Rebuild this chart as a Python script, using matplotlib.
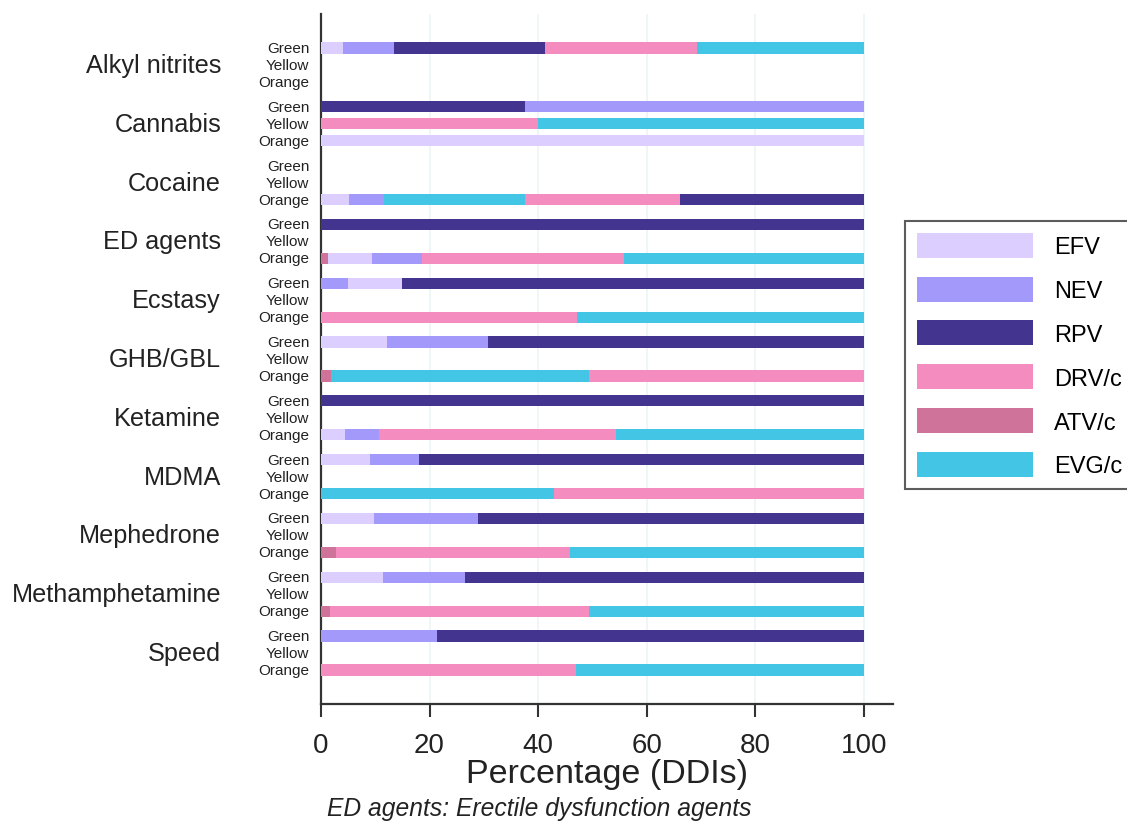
import matplotlib
matplotlib.use("Agg")
import matplotlib.pyplot as plt
from matplotlib.patches import Patch
import matplotlib.transforms as mtransforms

plt.rcParams['font.family'] = ['Liberation Sans', 'DejaVu Sans']

drugs = ["Alkyl nitrites", "Cannabis", "Cocaine", "ED agents", "Ecstasy", "GHB/GBL",
         "Ketamine", "MDMA", "Mephedrone", "Methamphetamine", "Speed"]
levels = ["Green", "Yellow", "Orange"]
classes = ["EFV", "NEV", "RPV", "DRV/c", "ATV/c", "EVG/c"]

# values per drug: [Green, Yellow, Orange]
EFV = [[4.1, 0, 0], [0, 0, 100], [0, 0, 5.2], [0, 0, 8.1], [9.9, 0, 0], [12.2, 0, 0],
       [0, 0, 4.4], [9.0, 0, 0], [9.7, 0, 0], [11.4, 0, 0], [0, 0, 0]]
NEV = [[9.4, 0, 0], [62.4, 0, 0], [0, 0, 6.5], [0, 0, 9.3], [5.0, 0, 0], [18.5, 0, 0],
       [0, 0, 6.3], [9.0, 0, 0], [19.3, 0, 0], [15.1, 0, 0], [21.4, 0, 0]]
RPV = [[27.7, 0, 0], [37.6, 0, 0], [0, 0, 33.8], [100, 0, 0], [85.1, 0, 0], [69.3, 0, 0],
       [100, 0, 0], [82.0, 0, 0], [71.0, 0, 0], [73.5, 0, 0], [78.6, 0, 0]]
DRVc = [[28.1, 0, 0], [0, 39.9, 0], [0, 0, 28.6], [0, 0, 37.2], [0, 0, 47.2], [0, 0, 50.7],
        [0, 0, 43.6], [0, 0, 57.0], [0, 0, 43.2], [0, 0, 47.6], [0, 0, 46.9]]
ATVc = [[0, 0, 0], [0, 0, 0], [0, 0, 0], [0, 0, 1.3], [0, 0, 0], [0, 0, 1.8],
        [0, 0, 0], [0, 0, 0], [0, 0, 2.7], [0, 0, 1.7], [0, 0, 0]]
EVGc = [[30.7, 0, 0], [0, 60.1, 0], [0, 0, 25.9], [0, 0, 44.1], [0, 0, 52.8], [0, 0, 47.5],
        [0, 0, 45.7], [0, 0, 43.0], [0, 0, 54.1], [0, 0, 50.7], [0, 0, 53.1]]

colors = {"EFV": "#dccfff", "NEV": "#a399fb", "RPV": "#43358f",
          "DRV/c": "#f58cc0", "ATV/c": "#cf739b", "EVG/c": "#43c6e6"}
data = {"EFV": EFV, "NEV": NEV, "RPV": RPV, "DRV/c": DRVc, "ATV/c": ATVc, "EVG/c": EVGc}

fig = plt.figure(figsize=(11.27, 8.28), dpi=100)
ax = fig.add_axes([321 / 1127, 1 - 705 / 828, (893 - 321) / 1127, (705 - 15) / 828])

group_step = 3.46
ypos = []
ylabels = []
for g, drug in enumerate(drugs):
    for r, lev in enumerate(levels):
        y = g * group_step + r
        ypos.append(y)
        ylabels.append(lev)
        segs = [(data[c][g][r], c) for c in classes if data[c][g][r] > 0]
        segs = sorted(segs, key=lambda s: s[0])
        left = 0
        for v, c in segs:
            ax.barh(y, v, left=left, height=0.66, color=colors[c], edgecolor='none', zorder=3)
            left += v

ax.set_ylim(ypos[-1] + 2.0, ypos[0] - 2.0)
ax.set_xlim(0, 105.4)
ax.set_yticks(ypos)
ax.set_yticklabels(ylabels, fontsize=11)
ax.tick_params(axis='y', length=0, pad=8.5, colors='#222222')
ax.set_xticks([0, 20, 40, 60, 80, 100])
ax.tick_params(axis='x', length=9, width=1.5, labelsize=20, color='#333333', labelcolor='#222222', pad=11)
for lbl in ax.get_yticklabels():
    lbl.set_verticalalignment('center')

trans = mtransforms.blended_transform_factory(fig.transFigure, ax.transData)
for g, drug in enumerate(drugs):
    ax.text(221 / 1127, g * group_step + 1, drug, transform=trans, ha='right', va='center',
            fontsize=18.2, color='#222222')

ax.grid(axis='x', color='#edf4f6', linewidth=1.2, zorder=0)
ax.set_axisbelow(True)
for s in ['top', 'right']:
    ax.spines[s].set_visible(False)
for s in ['left', 'bottom']:
    ax.spines[s].set_color('#333333')
    ax.spines[s].set_linewidth(1.6)

ax.set_xlabel("Percentage (DDIs)", fontsize=24.5, color='#222222', labelpad=0)
fig.text(327 / 1127, 1 - 809 / 828, "ED agents: Erectile dysfunction agents", fontsize=17.7,
         style='italic', color='#222222', ha='left', va='center')

handles = [Patch(facecolor=colors[c], edgecolor='none', label=c) for c in classes]
leg = fig.legend(handles=handles, loc='upper left', bbox_to_anchor=(905 / 1127, 1 - 222 / 828),
                 fontsize=17, frameon=True, fancybox=False, handlelength=4.9, handleheight=1.25,
                 labelspacing=0.78, handletextpad=0.9, borderpad=0.5, borderaxespad=0)
leg.get_frame().set_edgecolor('#333333')
leg.get_frame().set_linewidth(1.5)

fig.savefig("out.png", dpi=100)
